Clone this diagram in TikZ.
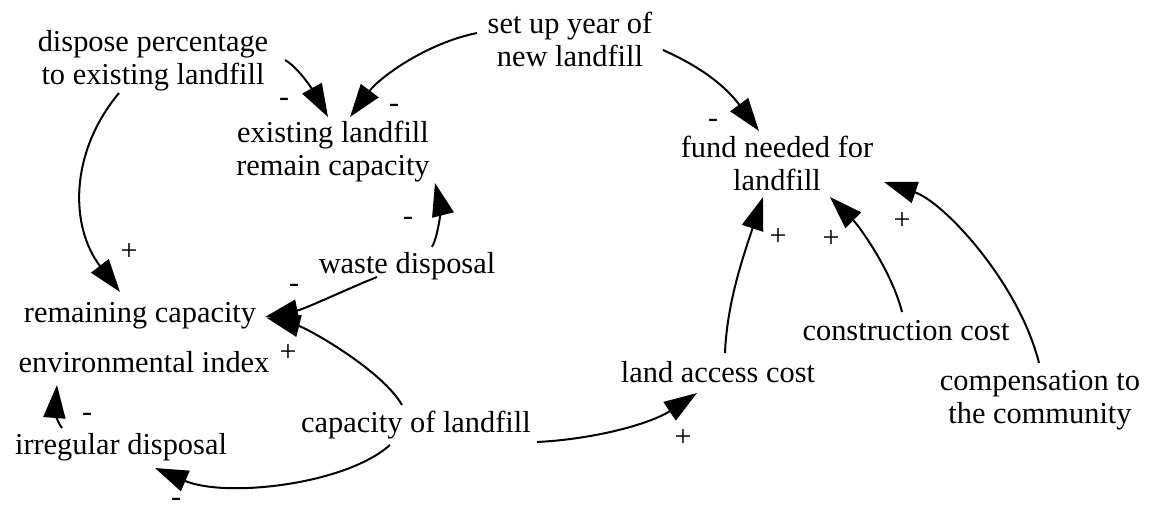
\documentclass[tikz,border=0pt]{standalone}
\usepackage{fontspec}
\setmainfont{Liberation Serif}
\usetikzlibrary{arrows.meta,calc}
\begin{document}
\begin{tikzpicture}[x=0.5pt,y=-0.5pt,
  var/.style={inner sep=0pt, align=center, font=\fontsize{15.2}{16.5}\selectfont},
  pol/.style={inner sep=0pt, font=\fontsize{15}{16}\selectfont},
  link/.style={line width=1pt, -{Triangle[length=16.5pt,width=11pt]}}]
\fill[white] (0,0) rectangle (1153,510);
\useasboundingbox (0,0) rectangle (1153,510);
% variables
\node[var] (dispose) at (153,61) {dispose percentage\\to existing landfill};
\node[var] (existing) at (333,152) {existing landfill\\remain capacity};
\node[var] (setup) at (570,39) {set up year of\\new landfill};
\node[var] (fund) at (777,163) {fund needed for\\landfill};
\node[var] (waste) at (407,266) {waste disposal};
\node[var] (remaining) at (140,316) {remaining capacity};
\node[var] (env) at (144,362) {environmental index};
\node[var] (irregular) at (121,447) {irregular disposal};
\node[var] (capacity) at (416,425) {capacity of landfill};
\node[var] (landaccess) at (718,372) {land access cost};
\node[var] (construction) at (906,331) {construction cost};
\node[var] (compensation) at (1040,400) {compensation to\\the community};
% links
\draw[link] ($(dispose)+(132,-1)$) .. controls +(16,9) and +(-10,-18) .. ($(existing)+(-5,-35)$);
\draw[link] ($(setup)+(-93,-6)$) .. controls +(-50,10) and +(30,-40) .. ($(existing)+(17,-35)$);
\draw[link] ($(setup)+(93,11)$) .. controls +(45,20) and +(-30,-40) .. ($(fund)+(-18,-32)$);
\draw[link] ($(dispose)+(-34,32)$) .. controls +(-50,60) and +(-50,-65) .. ($(remaining)+(-20,-24)$);
\draw[link] ($(waste)+(25,-19)$) .. controls +(8,-15) and +(5,20) .. ($(existing)+(102,31)$);
\draw[link] ($(waste)+(-30,11)$) .. controls +(-30,12) and +(40,-8) .. ($(remaining)+(125,1)$);
\draw[link] ($(capacity)+(-14,-20)$) .. controls +(-20,-35) and +(40,10) .. ($(remaining)+(127,2)$);
\draw[link] ($(irregular)+(-59,-19)$) .. controls +(-6,-8) and +(-2,25) .. ($(env)+(-87,23)$);
\draw[link] ($(capacity)+(-26,20)$) .. controls +(-45,40) and +(70,30) .. ($(irregular)+(34,21)$);
\draw[link] ($(capacity)+(121,17)$) .. controls +(60,-3) and +(-45,30) .. ($(landaccess)+(-21,21)$);
\draw[link] ($(landaccess)+(7,-19)$) .. controls +(2,-50) and +(-20,60) .. ($(fund)+(-14,34)$);
\draw[link] ($(construction)+(-4,-19)$) .. controls +(-10,-40) and +(30,30) .. ($(fund)+(53,34)$);
\draw[link] ($(compensation)+(-1,-37)$) .. controls +(-20,-80) and +(60,20) .. ($(fund)+(107,19)$);
% polarities
\node[pol] (p1) at (284,102) {-};
\node[pol] (p2) at (394,108) {-};
\node[pol] (p3) at (713,123) {-};
\node[pol] (p4) at (129,252) {+};
\node[pol] (p5) at (408,221) {-};
\node[pol] (p6) at (294,288) {-};
\node[pol] (p7) at (288,353) {+};
\node[pol] (p8) at (87,417) {-};
\node[pol] (p9) at (176,502) {-};
\node[pol] (p10) at (683,438) {+};
\node[pol] (p11) at (778,237) {+};
\node[pol] (p12) at (831,239) {+};
\node[pol] (p13) at (902,221) {+};
\end{tikzpicture}
\end{document}
